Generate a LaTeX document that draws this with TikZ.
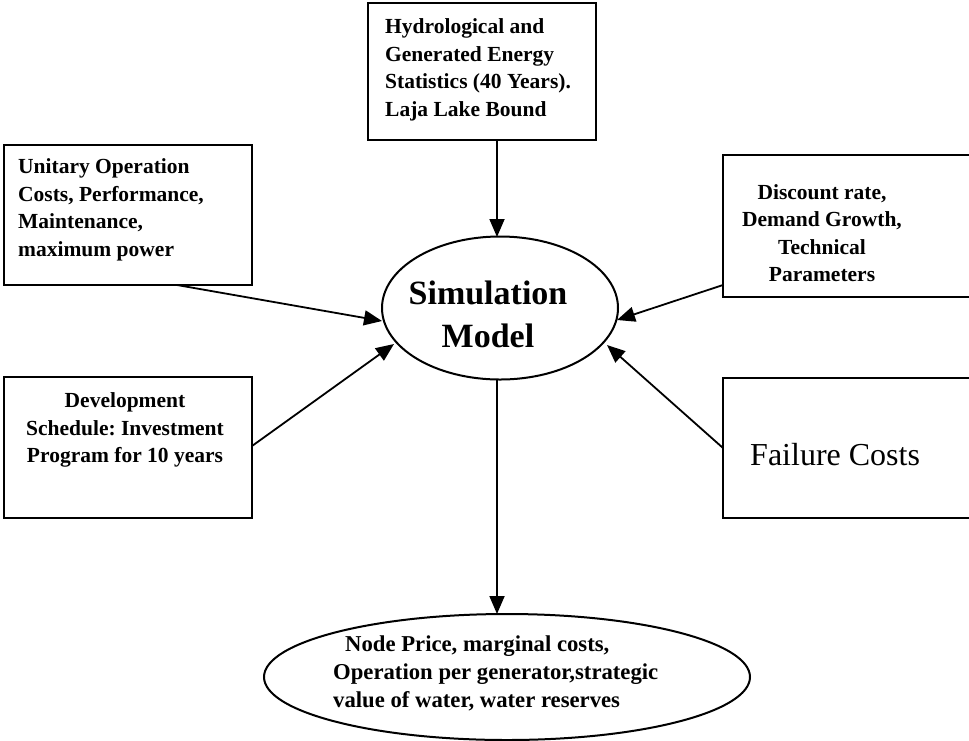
\documentclass[tikz,border=0pt]{standalone}
\usepackage{fontspec}
\setmainfont{Liberation Serif}
\frenchspacing
\usetikzlibrary{arrows.meta,shapes.geometric}
\begin{document}
\begin{tikzpicture}[x=1pt,y=-1pt,
  box/.style={draw,line width=2pt},
  conn/.style={line width=1.8pt,-{Triangle[length=18pt,width=15pt]}},
  txt/.style={font=\bfseries\fontsize{21.5}{27.5}\selectfont,inner sep=0pt},
  oval/.style={draw,line width=2pt,ellipse,inner sep=0pt}]
\useasboundingbox (0,0) rectangle (969,740);
% boxes
\draw[box] (368,3) rectangle (596,140);
\draw[box] (4,145) rectangle (252,285);
\draw[box] (723,155) rectangle (975,297);
\draw[box] (4,377) rectangle (252,518);
\draw[box] (723,378) rectangle (975,518);
% texts
\node[txt,align=left,anchor=west] (t1) at (385,70) {Hydrological and\\Generated Energy\\Statistics (40 Years).\\Laja Lake Bound};
\node[txt,align=left,anchor=west] (t2) at (18,210) {Unitary Operation\\Costs, Performance,\\Maintenance,\\maximum power};
\node[txt,align=center] (t3) at (822,233) {Discount rate,\\Demand Growth,\\Technical\\Parameters};
\node[txt,align=center] (t4) at (125,430) {Development\\Schedule: Investment\\Program for 10 years};
\node[inner sep=0pt,font=\fontsize{32}{36}\selectfont,anchor=west] (t5) at (750,455) {Failure Costs};
% ellipses
\node[oval,minimum width=236pt,minimum height=143pt] (sim) at (500,308) {};
\node[font=\bfseries\fontsize{34}{43}\selectfont,align=center,inner sep=0pt] (simt) at (488,314) {Simulation\\Model};
\node[oval,minimum width=486pt,minimum height=126pt] (out) at (507,677) {};
\node[txt,align=left,anchor=west,font=\bfseries\fontsize{22.7}{28}\selectfont] (outt) at (333,673) {\hspace*{12pt}Node Price, marginal costs,\\Operation per generator,strategic\\value of water, water reserves};
% connectors
\coordinate (topb) at (497,140);
\coordinate (simtop) at (497,237);
\coordinate (simbot) at (497,380);
\coordinate (outtop) at (497,614);
\coordinate (a1) at (177,285);
\coordinate (a2) at (252,446);
\coordinate (a3) at (723,285);
\coordinate (a4) at (723,448);
\coordinate (s1) at (382,321);
\coordinate (s2) at (394,344);
\coordinate (s3) at (617,320);
\coordinate (s4) at (607,345);
\draw[conn] (topb) -- (simtop);
\draw[conn] (a1) -- (s1);
\draw[conn] (a2) -- (s2);
\draw[conn] (a3) -- (s3);
\draw[conn] (a4) -- (s4);
\draw[conn] (simbot) -- (outtop);
\end{tikzpicture}
\end{document}
